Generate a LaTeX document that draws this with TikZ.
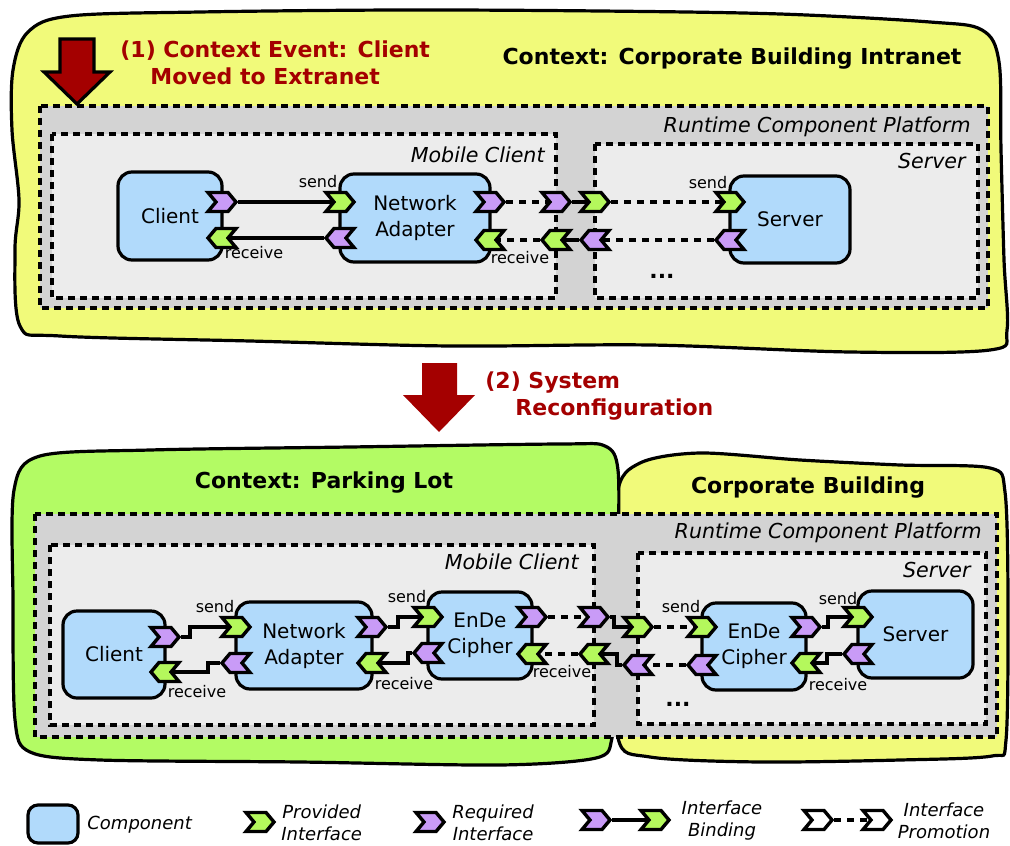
\documentclass[tikz,border=0pt]{standalone}
\usepackage{fontspec}
\setmainfont{DejaVu Sans}
\usetikzlibrary{shapes.symbols,calc}

\definecolor{ctxyellow}{HTML}{F1FA7A}
\definecolor{ctxgreen}{HTML}{B3FB64}
\definecolor{platgray}{HTML}{D3D3D3}
\definecolor{contgray}{HTML}{ECECEC}
\definecolor{compblue}{HTML}{B1DAFB}
\definecolor{provgreen}{HTML}{B4F85C}
\definecolor{reqpurple}{HTML}{C99BF7}
\definecolor{darkred}{HTML}{A40000}

\pgfdeclarelayer{bg}
\pgfdeclarelayer{wires}
\pgfsetlayers{bg,wires,main}

\begin{document}
\begin{tikzpicture}[x=0.5pt,y=-0.5pt,
    comp/.style={draw,line width=1.6pt,fill=compblue,rounded corners=7pt,align=center,
        inner sep=0pt,font=\fontsize{10}{13}\selectfont},
    chev/.style={signal,draw,line width=1.7pt,signal pointer angle=100,
        minimum width=14pt,minimum height=9.5pt,inner sep=0pt},
    provR/.style={chev,fill=provgreen,signal to=east,signal from=west},
    provL/.style={chev,fill=provgreen,signal to=west,signal from=east},
    reqR/.style={chev,fill=reqpurple,signal to=east,signal from=west},
    reqL/.style={chev,fill=reqpurple,signal to=west,signal from=east},
    emptyR/.style={chev,fill=white,signal to=east,signal from=west},
    bind/.style={line width=1.7pt},
    promo/.style={line width=1.7pt,dash pattern=on 3.5pt off 3pt},
    cloud/.style={draw,line width=1.6pt},
    platbox/.style={fill=platgray,draw,line width=1.7pt,dash pattern=on 3.5pt off 2.5pt},
    contbox/.style={fill=contgray,draw,line width=1.7pt,dash pattern=on 3.5pt off 2.5pt},
    boxlbl/.style={anchor=east,inner sep=0pt,font=\itshape\fontsize{10.3}{12}\selectfont},
    title/.style={font=\bfseries\fontsize{11}{13}\selectfont},
    event/.style={anchor=west,align=left,inner sep=0pt,text=darkred,
        font=\bfseries\fontsize{11}{13.5}\selectfont},
    lbl/.style={inner sep=0pt,font=\fontsize{8}{10}\selectfont},
    dots/.style={anchor=base,font=\bfseries\fontsize{11}{13}\selectfont},
    legtxt/.style={align=center,inner sep=0pt,font=\itshape\fontsize{9}{11}\selectfont}]
    \useasboundingbox (0,0) rectangle (1010,845);

    % context clouds and containers
    \begin{pgfonlayer}{bg}
    \draw[cloud,fill=ctxyellow] plot[smooth cycle,tension=0.55] coordinates {
        (13,70) (28,32) (70,16) (200,12) (400,10) (600,11) (780,14) (930,22) (982,30)
        (999,62) (1001,150) (1004,260) (1007,330) (990,350) (850,352) (650,345) (450,346)
        (250,341) (60,336) (20,326) (15,250) (19,200) (12,130)};
    \draw[cloud,fill=ctxyellow] plot[smooth cycle,tension=0.5] coordinates {
        (617,495) (640,463) (700,453) (800,460) (900,465) (990,468) (1005,492)
        (1008,600) (1006,740) (992,756) (900,760) (760,762) (650,757) (618,738)
        (617,620)};
    \draw[cloud,fill=ctxgreen] plot[smooth cycle,tension=0.5] coordinates {
        (14,490) (40,456) (150,450) (350,447) (560,444) (605,446) (618,470)
        (618,560) (616,680) (612,738) (596,758) (500,765) (300,762) (100,760)
        (30,752) (15,720) (13,600)};

    \draw[platbox] (40,106) rectangle (988,308);
    \draw[contbox] (52,134) rectangle (556,298);
    \draw[contbox] (595,144) rectangle (978,298);

    \draw[platbox] (35,514) rectangle (997,737);
    \draw[contbox] (50,545) rectangle (594,725);
    \draw[contbox] (638,553) rectangle (986,724);
    \end{pgfonlayer}

    % events
    \draw[line width=1.6pt,fill=darkred] (60,39) -- (94,39) -- (94,72) -- (110,72)
        -- (77,104) -- (44,72) -- (60,72) -- cycle;
    \node[event] (ev1) at (120,63) {(1) Context Event: Client\\\hspace*{15pt}Moved to Extranet};
    \fill[darkred] (422,363) -- (457,363) -- (457,395) -- (475,395) -- (439,432)
        -- (403,395) -- (422,395) -- cycle;
    \node[event] (ev2) at (485,396) {(2) System\\\hspace*{15pt}Reconfiguration};

    % before: corporate building intranet
    \node[title] (t1) at (732,59) {Context: Corporate Building Intranet};
    \node[boxlbl] (t1plat) at (971,127) {Runtime Component Platform};
    \node[boxlbl] (t1mob) at (545,155) {Mobile Client};
    \node[boxlbl] (t1srv) at (966,161) {Server};

    \node[comp,minimum width=52pt,minimum height=44pt] (tcl) at (170,216) {Client};
    \node[comp,minimum width=75pt,minimum height=44pt] (tna) at (415,218) {Network\\Adapter};
    \node[comp,minimum width=60pt,minimum height=43.5pt] (tsv) at (790,219.5) {Server};

    \node[reqR] (tcl-req) at (222,202) {};
    \node[provL] (tcl-prov) at (222,238) {};
    \node[provR] (tna-prov-l) at (340,202) {};
    \node[reqL] (tna-req-l) at (340,238) {};
    \node[reqR] (tna-req-r) at (490,202) {};
    \node[provL] (tna-prov-r) at (490,240) {};
    \node[reqR] (tmc-req) at (556,202) {};
    \node[provL] (tmc-prov) at (556,240) {};
    \node[provR] (tsc-prov) at (595,202) {};
    \node[reqL] (tsc-req) at (595,240) {};
    \node[provR] (tsv-prov) at (730,202) {};
    \node[reqL] (tsv-req) at (730,240) {};

    \node[lbl] (ts1) at (318,182) {send};
    \node[lbl] (tr1) at (254,253) {receive};
    \node[lbl] (tr2) at (520,258) {receive};
    \node[lbl] (ts2) at (708,183) {send};
    \node[dots] (tdots) at (662,278) {...};

    % after: parking lot / corporate building
    \node[title] (t2) at (324,483) {Context: Parking Lot};
    \node[title] (t3) at (808,488) {Corporate Building};
    \node[boxlbl] (t2plat) at (982,533) {Runtime Component Platform};
    \node[boxlbl] (t2mob) at (579,562) {Mobile Client};
    \node[boxlbl] (t2srv) at (971,570) {Server};

    \node[comp,minimum width=51pt,minimum height=43.5pt] (bcl) at (114,654.5) {Client};
    \node[comp,minimum width=68pt,minimum height=43.5pt] (bna) at (304,645.5) {Network\\Adapter};
    \node[comp,minimum width=52pt,minimum height=43.5pt] (bme) at (480,635.5) {EnDe\\Cipher};
    \node[comp,minimum width=52pt,minimum height=43.5pt] (bse) at (754,646.5) {EnDe\\Cipher};
    \node[comp,minimum width=57.5pt,minimum height=43.5pt] (bsv) at (915.5,634.5) {Server};

    \node[reqR] (bcl-req) at (165,637) {};
    \node[provL] (bcl-prov) at (165,672) {};
    \node[provR] (bna-prov-l) at (236,627) {};
    \node[reqL] (bna-req-l) at (236,663) {};
    \node[reqR] (bna-req-r) at (372,627) {};
    \node[provL] (bna-prov-r) at (372,663) {};
    \node[provR] (bme-prov-l) at (428,617) {};
    \node[reqL] (bme-req-l) at (428,653) {};
    \node[reqR] (bme-req-r) at (532,617) {};
    \node[provL] (bme-prov-r) at (532,654) {};
    \node[reqR] (bmc-req) at (594,617) {};
    \node[provL] (bmc-prov) at (594,654) {};
    \node[provR] (bsc-prov) at (638,627) {};
    \node[reqL] (bsc-req) at (638,665) {};
    \node[provR] (bse-prov-l) at (702,627) {};
    \node[reqL] (bse-req-l) at (702,665) {};
    \node[reqR] (bse-req-r) at (806,627) {};
    \node[provL] (bse-prov-r) at (806,663) {};
    \node[provR] (bsv-prov) at (858,617) {};
    \node[reqL] (bsv-req) at (858,654) {};

    \node[lbl] (bs1) at (215,607) {send};
    \node[lbl] (br1) at (197,692) {receive};
    \node[lbl] (bs2) at (407,597) {send};
    \node[lbl] (br2) at (404,684) {receive};
    \node[lbl] (br3) at (562,672) {receive};
    \node[lbl] (bs3) at (681,607) {send};
    \node[lbl] (bs4) at (838,599) {send};
    \node[lbl] (br4) at (838,685) {receive};
    \node[dots] (bdots) at (678,706) {...};

    % legend
    \node[comp,minimum width=25pt,minimum height=19pt,rounded corners=5pt] (lgcomp) at (53,824) {};
    \node[legtxt,anchor=west] (lgcomptxt) at (87,825) {Component};
    \node[provR] (lgprov) at (260,822) {};
    \node[legtxt,anchor=west] (lgprovtxt) at (281,823) {Provided\\Interface};
    \node[reqR] (lgreq) at (430,822) {};
    \node[legtxt,anchor=west] (lgreqtxt) at (452,823) {Required\\Interface};
    \node[reqR] (lgbinda) at (596,820) {};
    \node[provR] (lgbindb) at (655,820) {};
    \node[legtxt] (lgbindtxt) at (722,821) {Interface\\Binding};
    \node[emptyR] (lgpromoa) at (818,820) {};
    \node[emptyR] (lgpromob) at (877,820) {};
    \node[legtxt] (lgpromotxt) at (944,821) {Interface\\Promotion};

    % bindings and promotions
    \begin{pgfonlayer}{wires}
    \draw[bind] (tcl-req) -- (tna-prov-l);
    \draw[bind] (tna-req-l) -- (tcl-prov);
    \draw[bind] (tmc-req) -- (tsc-prov);
    \draw[bind] (tsc-req) -- (tmc-prov);
    \draw[promo] (tna-req-r) -- (tmc-req);
    \draw[promo] (tmc-prov) -- (tna-prov-r);
    \draw[promo] (tsc-prov) -- (tsv-prov);
    \draw[promo] (tsv-req) -- (tsc-req);

    \draw[bind] (bcl-req) -- ++(25,0) |- (bna-prov-l);
    \draw[bind] (bna-req-l) -- ++(-28,0) |- (bcl-prov);
    \draw[bind] (bna-req-r) -- ++(26,0) |- (bme-prov-l);
    \draw[bind] (bme-req-l) -- ++(-20,0) |- (bna-prov-r);
    \draw[promo] (bme-req-r) -- (bmc-req);
    \draw[promo] (bmc-prov) -- (bme-prov-r);
    \draw[bind] (bmc-req) -- ++(20,0) |- (bsc-prov);
    \draw[bind] (bsc-req) -- ++(-21,0) |- (bmc-prov);
    \draw[promo] (bsc-prov) -- (bse-prov-l);
    \draw[promo] (bse-req-l) -- (bsc-req);
    \draw[bind] (bse-req-r) -- ++(22,0) |- (bsv-prov);
    \draw[bind] (bsv-req) -- ++(-31,0) |- (bse-prov-r);

    \draw[bind] (lgbinda) -- (lgbindb);
    \draw[promo] (lgpromoa) -- (lgpromob);
    \end{pgfonlayer}
\end{tikzpicture}
\end{document}
